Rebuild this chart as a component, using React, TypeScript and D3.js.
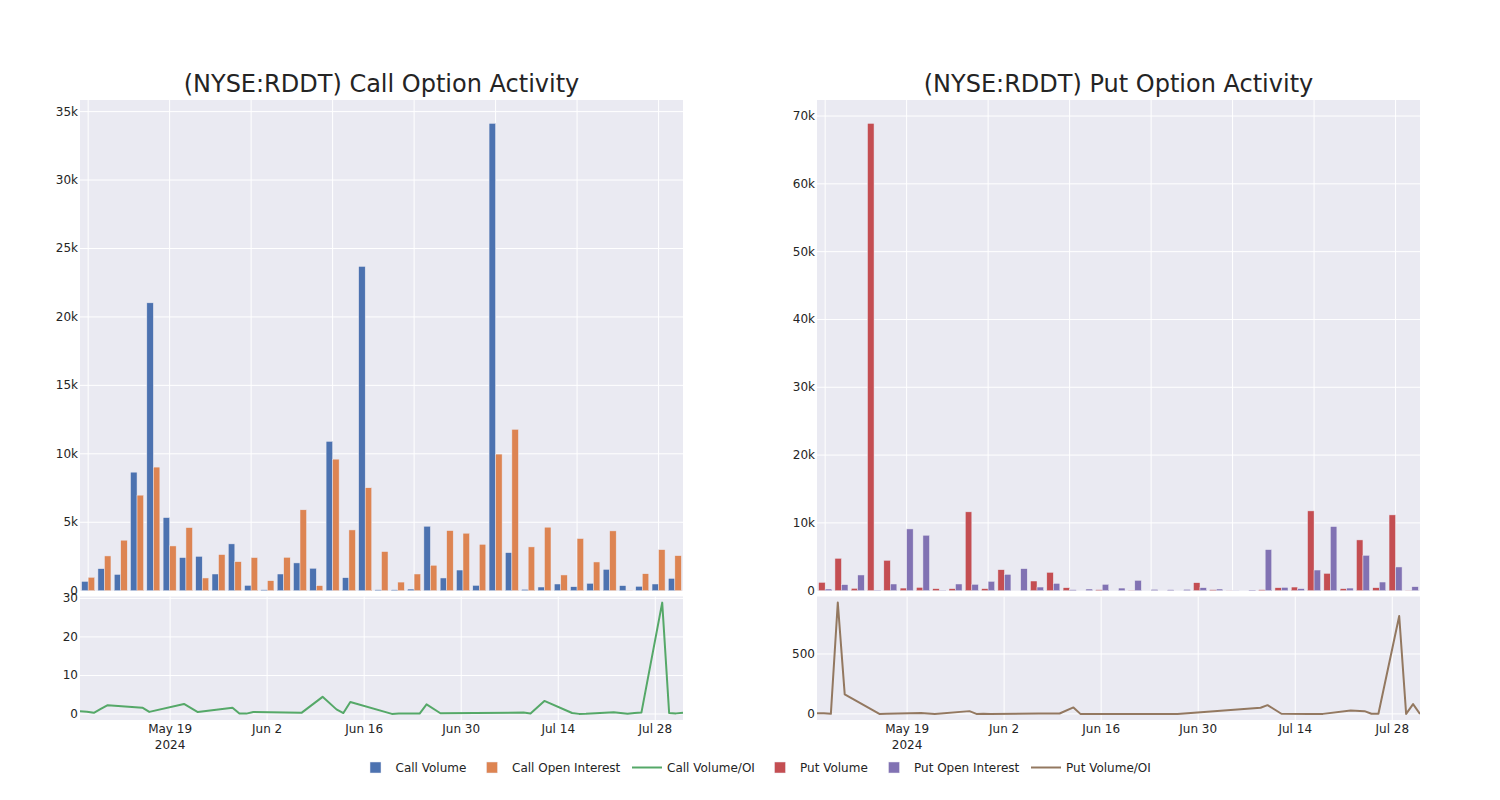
import React from "react";
import * as d3 from "d3";

// trading days in the data (bars are one category each)
const dates = [
  "2024-05-06", "2024-05-07", "2024-05-08", "2024-05-09", "2024-05-10",
  "2024-05-15", "2024-05-16", "2024-05-21", "2024-05-23", "2024-05-28",
  "2024-05-29", "2024-05-30", "2024-05-31", "2024-06-07", "2024-06-10",
  "2024-06-12", "2024-06-13", "2024-06-14", "2024-06-20", "2024-06-21",
  "2024-06-24", "2024-06-25", "2024-06-27", "2024-07-09", "2024-07-10",
  "2024-07-12", "2024-07-16", "2024-07-17", "2024-07-18", "2024-07-22",
  "2024-07-24", "2024-07-25", "2024-07-26", "2024-07-29", "2024-07-30",
  "2024-07-31", "2024-08-01",
];

const callVolume = [
  680, 1610, 1190, 8660, 21030, 5340, 2420, 2510, 1220, 3420,
  390, 70, 1220, 2030, 1640, 10910, 950, 23690, 70, 70,
  120, 4710, 930, 1510, 390, 34140, 2780, 100, 270, 490,
  290, 540, 1560, 370, 320, 490, 900,
];
const callOpenInterest = [
  980, 2540, 3690, 6980, 9030, 3270, 4610, 930, 2640, 2120,
  2420, 730, 2440, 5910, 370, 9610, 4440, 7520, 2860, 630,
  1220, 1860, 4390, 4200, 3390, 9980, 11790, 3200, 4640, 1150,
  3810, 2100, 4370, 13, 1240, 3000, 2560,
];
const callVolOI = [
  0.7, 0.6, 0.3, 1.3, 2.3, 1.65, 0.55, 2.6, 0.5, 1.65,
  0.12, 0.1, 0.5, 0.35, 4.45, 1.2, 0.25, 3.1, 0.03, 0.12,
  0.1, 2.5, 0.2, 0.36, 0.1, 3.4, 0.25, 0.03, 0.06, 0.43,
  0.08, 0.26, 0.36, 28.9, 0.25, 0.16, 0.35,
];

const putVolume = [
  1230, 4780, 350, 68920, 4480, 390, 490, 300, 300, 11630,
  300, 3100, 0, 1430, 2710, 440, 0, 150, 0, 40,
  0, 0, 0, 1180, 150, 20, 0, 150, 440, 540,
  11770, 2560, 300, 7490, 440, 11180, 30,
];
const putOpenInterest = [
  250, 890, 2320, 74, 990, 9110, 8180, 50, 990, 940,
  1380, 2410, 3250, 540, 1080, 150, 250, 940, 390, 1530,
  200, 150, 200, 440, 250, 20, 100, 6060, 490, 300,
  3050, 9460, 390, 5220, 1280, 3500, 590,
];
const putVolOI = [
  5, 5, 0.2, 929, 163, 0, 1, 8, 0, 23,
  0, 1, 0, 3, 3, 54, 0, 0, 0, 0,
  0, 0, 0, 51, 73, 1, 0, 0, 0, 28,
  23, 1, 1, 817, 0, 82, 0,
];

const dateTicks = ["2024-05-19", "2024-06-02", "2024-06-16", "2024-06-30", "2024-07-14", "2024-07-28"];
const xStart = "2024-05-06";
const xEnd = "2024-08-01";

const FONT = "'DejaVu Sans', Verdana, sans-serif";
const INK = "rgb(36,36,36)";
const BG = "rgb(234,234,242)";

const parse = d3.timeParse("%Y-%m-%d");
const fmtTick = d3.timeFormat("%b %-d");

const TOP = 100;
const BAR_BOTTOM = 590.7;
const LINE_TOP = 596.5;
const LINE_BOTTOM = 720;

function Panel({ x0, x1, title, vol, oi, ratio, volColor, oiColor, lineColor, barStep, ratioStep, id }) {
  const n = dates.length;
  const xBand = d3.scaleBand().domain(d3.range(n)).range([x0, x1]).paddingInner(0.2).paddingOuter(0.1);
  const xSub = d3.scaleBand().domain(["vol", "oi"]).range([0, xBand.bandwidth()]);
  const barMax = (d3.max(vol.concat(oi)) as number) * 1.05;
  const yBar = d3.scaleLinear().domain([0, barMax]).range([BAR_BOTTOM, TOP]);
  const barTicks = d3.range(0, barMax, barStep);

  const xTime = d3.scaleTime().domain([parse(xStart), parse(xEnd)]).range([x0, x1]);
  const [lo, hi] = d3.extent(ratio) as [number, number];
  const pad = (hi - lo) * 0.055;
  const yLine = d3.scaleLinear().domain([lo - pad, hi + pad]).range([LINE_BOTTOM, LINE_TOP]);
  const lineTicks = d3.range(0, hi + pad, ratioStep);

  const lineGen = d3.line<number>().x((d, i) => xTime(parse(dates[i]))).y((d) => yLine(d));

  return (
    <g>
      <text x={(x0 + x1) / 2} y={92} textAnchor="middle" fontSize={24} fill={INK} fontFamily={FONT}>
        {title}
      </text>

      {/* bar subplot */}
      <rect x={x0} y={TOP} width={x1 - x0} height={BAR_BOTTOM - TOP} fill={BG} />
      {barTicks.filter((t) => t > 0).map((t) => (
        <line key={t} x1={x0} x2={x1} y1={yBar(t)} y2={yBar(t)} stroke="#fff" strokeWidth={1} />
      ))}
      {d3.range(0, n, 5).map((i) => {
        const cx = (xBand(i) as number) + xBand.bandwidth() / 2;
        return <line key={i} x1={cx} x2={cx} y1={TOP} y2={BAR_BOTTOM} stroke="#fff" strokeWidth={1} />;
      })}
      {vol.map((v, i) => (
        <rect
          key={"v" + i}
          x={(xBand(i) as number) + (xSub("vol") as number)}
          y={yBar(v)}
          width={xSub.bandwidth()}
          height={BAR_BOTTOM - yBar(v)}
          fill={volColor}
          stroke={BG}
          strokeWidth={0.5}
        />
      ))}
      {oi.map((v, i) => (
        <rect
          key={"o" + i}
          x={(xBand(i) as number) + (xSub("oi") as number)}
          y={yBar(v)}
          width={xSub.bandwidth()}
          height={BAR_BOTTOM - yBar(v)}
          fill={oiColor}
          stroke={BG}
          strokeWidth={0.5}
        />
      ))}
      {barTicks.map((t) => (
        <text key={t} x={x0 - 2} y={yBar(t) + 4} textAnchor="end" fontSize={12} fill={INK} fontFamily={FONT}>
          {d3.format("~s")(t)}
        </text>
      ))}

      {/* ratio subplot */}
      <clipPath id={id}>
        <rect x={x0} y={LINE_TOP} width={x1 - x0} height={LINE_BOTTOM - LINE_TOP} />
      </clipPath>
      <rect x={x0} y={LINE_TOP} width={x1 - x0} height={LINE_BOTTOM - LINE_TOP} fill={BG} />
      {lineTicks.map((t) => (
        <line key={t} x1={x0} x2={x1} y1={yLine(t)} y2={yLine(t)} stroke="#fff" strokeWidth={1} />
      ))}
      {dateTicks.map((d) => (
        <line key={d} x1={xTime(parse(d))} x2={xTime(parse(d))} y1={LINE_TOP} y2={LINE_BOTTOM} stroke="#fff" strokeWidth={1} />
      ))}
      <path d={lineGen(ratio) as string} fill="none" stroke={lineColor} strokeWidth={2} clipPath={`url(#${id})`} strokeLinejoin="round" />
      {lineTicks.map((t) => (
        <text key={t} x={x0 - 2} y={yLine(t) + 4} textAnchor="end" fontSize={12} fill={INK} fontFamily={FONT}>
          {t}
        </text>
      ))}
      {dateTicks.map((d, i) => (
        <text key={d} x={xTime(parse(d))} y={733} textAnchor="middle" fontSize={12} fill={INK} fontFamily={FONT}>
          {fmtTick(parse(d))}
          {i === 0 && (
            <tspan x={xTime(parse(d))} dy={16}>
              {d.slice(0, 4)}
            </tspan>
          )}
        </text>
      ))}
    </g>
  );
}

const legendItems = [
  { label: "Call Volume", kind: "bar", color: "rgb(76,114,176)", x: 355.5 },
  { label: "Call Open Interest", kind: "bar", color: "rgb(221,132,82)", x: 472 },
  { label: "Call Volume/OI", kind: "line", color: "rgb(85,168,104)", x: 627 },
  { label: "Put Volume", kind: "bar", color: "rgb(196,78,82)", x: 760 },
  { label: "Put Open Interest", kind: "bar", color: "rgb(129,114,179)", x: 874 },
  { label: "Put Volume/OI", kind: "line", color: "rgb(147,120,96)", x: 1026 },
];

export default function App() {
  const ly = 767.5;
  return (
    <svg width={1500} height={800} style={{ position: "absolute", left: 0, top: 0, background: "#fff" }}>
      <Panel
        id="clipCall"
        x0={80}
        x1={683}
        title="(NYSE:RDDT) Call Option Activity"
        vol={callVolume}
        oi={callOpenInterest}
        ratio={callVolOI}
        volColor="rgb(76,114,176)"
        oiColor="rgb(221,132,82)"
        lineColor="rgb(85,168,104)"
        barStep={5000}
        ratioStep={10}
      />
      <Panel
        id="clipPut"
        x0={817}
        x1={1420}
        title="(NYSE:RDDT) Put Option Activity"
        vol={putVolume}
        oi={putOpenInterest}
        ratio={putVolOI}
        volColor="rgb(196,78,82)"
        oiColor="rgb(129,114,179)"
        lineColor="rgb(147,120,96)"
        barStep={10000}
        ratioStep={500}
      />
      {legendItems.map((it) => (
        <g key={it.label}>
          {it.kind === "bar" ? (
            <rect x={it.x + 14.5} y={ly - 5.5} width={11} height={11} fill={it.color} stroke={BG} strokeWidth={0.5} />
          ) : (
            <line x1={it.x + 5} x2={it.x + 35} y1={ly} y2={ly} stroke={it.color} strokeWidth={2} />
          )}
          <text x={it.x + 40} y={ly + 4.5} fontSize={12} fill={INK} fontFamily={FONT}>
            {it.label}
          </text>
        </g>
      ))}
    </svg>
  );
}
